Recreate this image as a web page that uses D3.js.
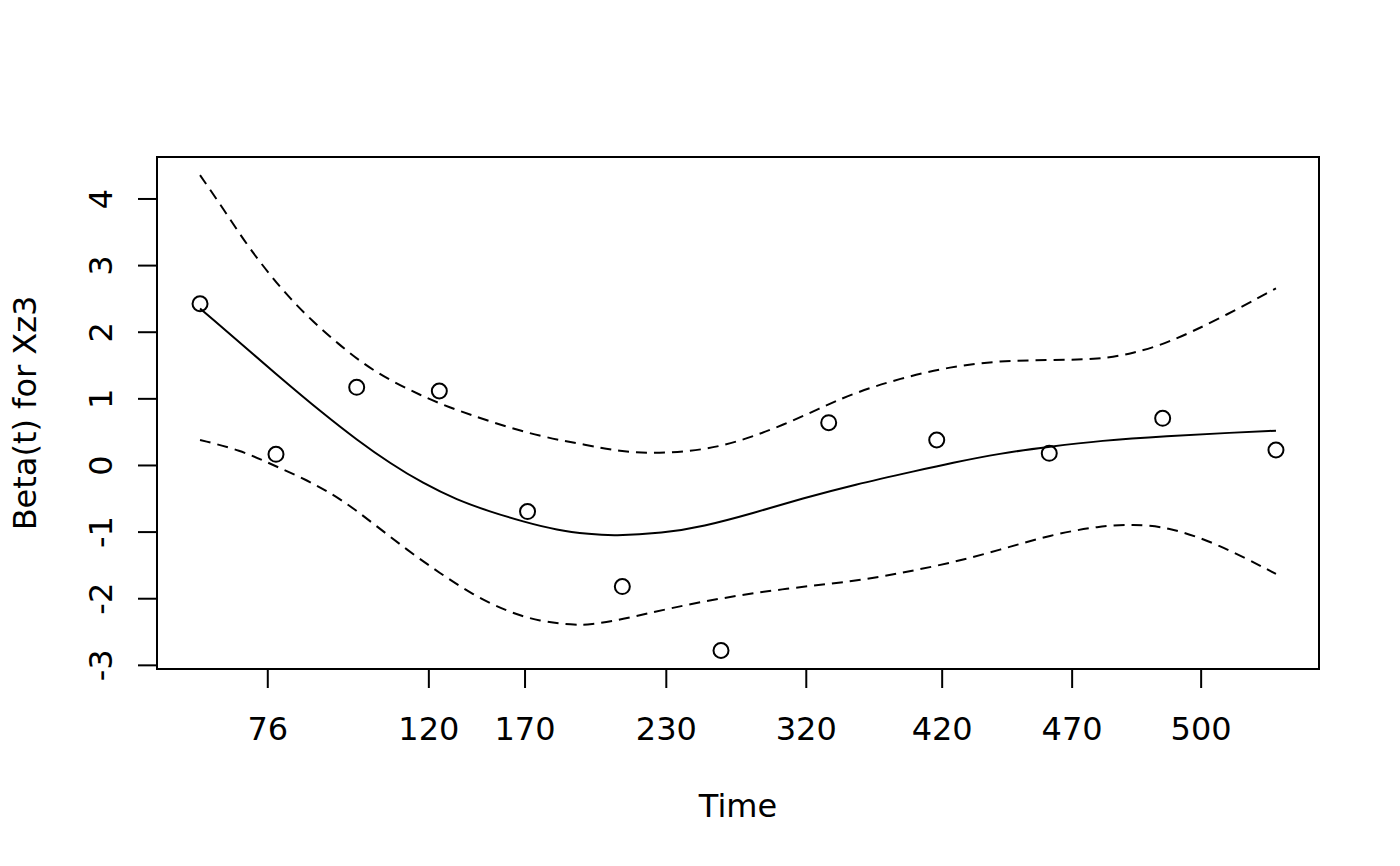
<!DOCTYPE html>
<html>
<head>
<meta charset="utf-8">
<script src="https://cdn.jsdelivr.net/npm/d3@7"></script>
<style>
  html, body { margin: 0; padding: 0; background: #fff; }
  svg { display: block; font-family: "DejaVu Sans", sans-serif; }
</style>
</head>
<body>
<svg id="chart" width="1400" height="866"></svg>
<script>
// x values are on the transformed (KM) time scale, 0..1
const pointX = [0, 0.0706, 0.1456, 0.2224, 0.3044, 0.3925, 0.4842, 0.5843, 0.6847, 0.7893, 0.8947, 1.0];
const pointY = [2.42, 0.16, 1.165, 1.11, -0.70, -1.825, -2.785, 0.635, 0.375, 0.175, 0.70, 0.225];

const fitX = [0, 0.0771, 0.1143, 0.1459, 0.1766, 0.2072, 0.2388, 0.2695, 0.3002, 0.3318, 0.3625, 0.3838, 0.4303, 0.4675, 0.5139, 0.5604, 0.6069, 0.6691, 0.6970, 0.7435, 0.7900, 0.8364, 0.8987, 0.9600, 1.0];
const fitY = [2.35, 1.275, 0.775, 0.375, 0.025, -0.275, -0.525, -0.70, -0.85, -0.98, -1.04, -1.065, -1.025, -0.925, -0.725, -0.5, -0.3, -0.075, 0.025, 0.175, 0.275, 0.365, 0.435, 0.485, 0.515];

const upperX = [0, 0.0214, 0.0437, 0.0651, 0.0836, 0.1050, 0.1283, 0.1515, 0.1766, 0.2045, 0.2296, 0.2695, 0.3160, 0.3597, 0.3903, 0.4210, 0.4526, 0.4833, 0.5139, 0.5455, 0.5762, 0.6069, 0.6506, 0.6970, 0.7435, 0.7900, 0.8364, 0.8671, 0.8987, 0.9452, 1.0];
const upperY = [4.35, 3.85, 3.30, 2.85, 2.50, 2.15, 1.82, 1.52, 1.27, 1.05, 0.875, 0.65, 0.425, 0.30, 0.2, 0.175, 0.2, 0.275, 0.425, 0.625, 0.85, 1.075, 1.30, 1.475, 1.565, 1.575, 1.585, 1.675, 1.825, 2.175, 2.65];

const lowerX = [0, 0.0372, 0.0678, 0.0994, 0.1301, 0.1608, 0.1924, 0.2230, 0.2537, 0.2853, 0.3160, 0.3467, 0.3625, 0.3903, 0.4368, 0.4833, 0.5455, 0.6069, 0.6506, 0.6970, 0.7435, 0.7900, 0.8364, 0.8671, 0.8987, 0.9452, 1.0];
const lowerY = [0.375, 0.225, 0.0, -0.225, -0.5, -0.875, -1.275, -1.625, -1.95, -2.2, -2.35, -2.4, -2.4, -2.325, -2.15, -2.0, -1.85, -1.75, -1.625, -1.475, -1.275, -1.05, -0.915, -0.89, -0.925, -1.175, -1.635];

const xTickPos = [0.0625, 0.2122, 0.3016, 0.4329, 0.5630, 0.6893, 0.8101, 0.9300];
const xTickLabels = ["76", "120", "170", "230", "320", "420", "470", "500"];
const yTicks = [-3, -2, -1, 0, 1, 2, 3, 4];

const xTitle = "Time";
const yTitle = "Beta(t) for Xz3";

const svg = d3.select("#chart");
const L = 157, R = 1319, T = 157, B = 669;

const x = d3.scaleLinear().domain([-0.04, 1.04]).range([L, R]);
const y = d3.scaleLinear().domain([-3.0624, 4.6224]).range([B, T]);

const FS = 32;

// lines
const line = d3.line().x(d => x(d[0])).y(d => y(d[1])).curve(d3.curveBasis);
const zip = (a, b) => a.map((v, i) => [v, b[i]]);

svg.append("path").datum(zip(fitX, fitY)).attr("d", line)
  .attr("fill", "none").attr("stroke", "#000").attr("stroke-width", 2);
svg.append("path").datum(zip(upperX, upperY)).attr("d", line)
  .attr("fill", "none").attr("stroke", "#000").attr("stroke-width", 2).attr("stroke-dasharray", "11,7");
svg.append("path").datum(zip(lowerX, lowerY)).attr("d", line)
  .attr("fill", "none").attr("stroke", "#000").attr("stroke-width", 2).attr("stroke-dasharray", "11,7");

// points
svg.append("g").selectAll("circle").data(zip(pointX, pointY)).join("circle")
  .attr("cx", d => x(d[0])).attr("cy", d => y(d[1])).attr("r", 7.5)
  .attr("fill", "none").attr("stroke", "#000").attr("stroke-width", 2);

// box
svg.append("rect").attr("x", L).attr("y", T).attr("width", R - L).attr("height", B - T)
  .attr("fill", "none").attr("stroke", "#000").attr("stroke-width", 2);

// x axis
const xAxis = d3.axisBottom(x).tickValues(xTickPos).tickSize(19)
  .tickFormat((d, i) => xTickLabels[i]);
const gx = svg.append("g").attr("transform", `translate(0,${B})`).call(xAxis);
gx.select(".domain").remove();
gx.selectAll(".tick line").attr("stroke", "#000").attr("stroke-width", 2);
gx.selectAll(".tick text").attr("font-size", FS).attr("font-family", "DejaVu Sans")
  .attr("fill", "#000").attr("y", 0).attr("dy", null)
  .attr("transform", "translate(0,71)");

// y axis
const yAxis = d3.axisLeft(y).tickValues(yTicks).tickSize(19).tickFormat(d => String(d));
const gy = svg.append("g").attr("transform", `translate(${L},0)`).call(yAxis);
gy.select(".domain").remove();
gy.selectAll(".tick line").attr("stroke", "#000").attr("stroke-width", 2);
gy.selectAll(".tick text").attr("font-size", FS).attr("font-family", "DejaVu Sans")
  .attr("fill", "#000").attr("x", 0).attr("dy", null)
  .attr("text-anchor", "middle").attr("dominant-baseline", null)
  .attr("transform", "translate(-45,0) rotate(-90)");

// titles
svg.append("text").attr("x", (L + R) / 2).attr("y", 817).attr("text-anchor", "middle")
  .attr("font-size", FS).attr("fill", "#000").text(xTitle);
svg.append("text").attr("transform", `translate(36,${(T + B) / 2}) rotate(-90)`)
  .attr("text-anchor", "middle").attr("font-size", FS).attr("fill", "#000").text(yTitle);
</script>
</body>
</html>
